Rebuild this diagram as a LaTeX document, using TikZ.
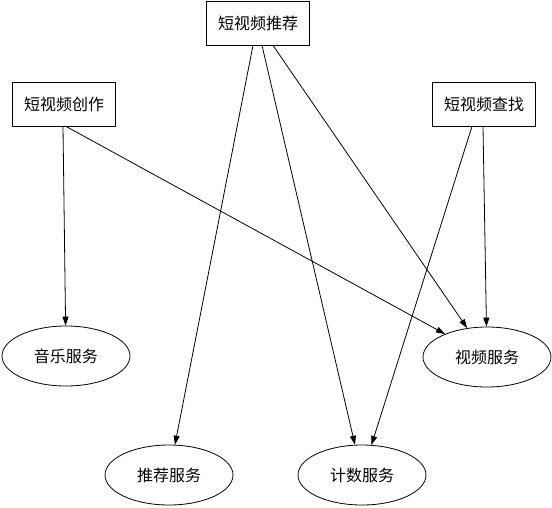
\documentclass[tikz,border=0pt]{standalone}
\usepackage{fontspec}
\setmainfont{Noto Sans CJK SC}
\usetikzlibrary{shapes.geometric,arrows.meta}
\begin{document}
\begin{tikzpicture}[x=1pt,y=-1pt,
  font=\fontsize{16}{19}\selectfont,
  boxnode/.style={draw,line width=0.8pt,minimum width=103pt,minimum height=44pt,inner sep=0pt},
  ellnode/.style={draw,ellipse,line width=0.8pt,minimum width=128pt,minimum height=60pt,inner sep=0pt},
  conn/.style={line width=0.8pt,-{Triangle[length=9pt,width=6pt]}}]
\useasboundingbox (0,0) rectangle (552,507);
\node[boxnode] (tj) at (258,23) {短视频推荐};
\node[boxnode] (cz) at (64,104) {短视频创作};
\node[boxnode] (cx) at (484,104) {短视频查找};
\node[ellnode] (yy) at (66,356) {音乐服务};
\node[ellnode] (sp) at (487,357) {视频服务};
\node[ellnode] (tf) at (169,475) {推荐服务};
\node[ellnode] (js) at (362,475) {计数服务};
\draw[conn] ([xshift=-5pt]tj.south) -- (tf);
\draw[conn] ([xshift=4pt]tj.south) -- (js);
\draw[conn] ([xshift=15pt]tj.south) -- (sp);
\draw[conn] ([xshift=-1pt]cz.south) -- (yy);
\draw[conn] ([xshift=2pt]cz.south) -- (sp);
\draw[conn] ([xshift=-1pt]cx.south) -- (sp);
\draw[conn] ([xshift=-12pt]cx.south) -- (js);
\end{tikzpicture}
\end{document}
